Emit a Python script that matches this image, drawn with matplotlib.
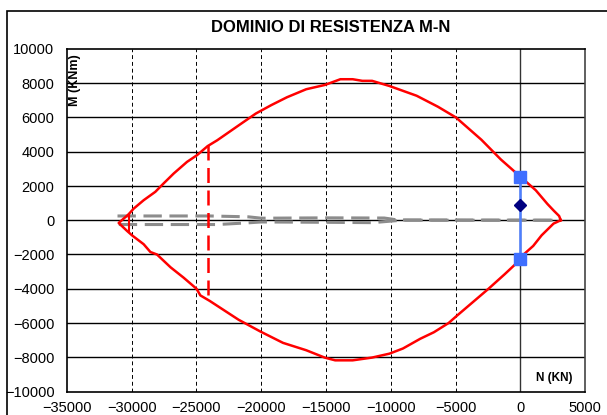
import matplotlib.pyplot as plt
from matplotlib.patches import Rectangle

plt.rcParams['font.family'] = ['Liberation Sans', 'DejaVu Sans']

# dominio di resistenza (contorno chiuso, N in KN, M in KNm)
dom_N = [3130, 3000, 2600, 2100, 1200, 0, -1500, -3000, -4960, -6360, -8000,
         -10100, -11440, -12190, -12940, -13890, -15090, -16530, -18020,
         -19220, -20410, -21610, -23400, -24140, -24960, -25730, -26760,
         -27540, -28180, -29080, -29850, -30240, -31010,
         -30360, -29980, -29080, -28560, -28050, -27000, -26000, -25000,
         -24700, -24000, -21750, -20060, -18320, -16530, -15100, -14290,
         -12940, -11450, -10100, -9060, -7720, -6670, -5530, -4960, -2450,
         -1200, 0, 260, 1000, 1650, 2570, 3130]
dom_M = [0, 250, 550, 950, 1750, 2550, 3550, 4700, 6000, 6630, 7270,
         7840, 8140, 8140, 8235, 8235, 7900, 7650, 7180,
         6725, 6235, 5610, 4670, 4330, 3800, 3410, 2730,
         2150, 1660, 1170, 680, 350, -160,
         -625, -880, -1400, -1855, -2000, -2750, -3350, -4000,
         -4390, -4700, -5810, -6500, -7160, -7590, -8020, -8180,
         -8180, -8020, -7790, -7490, -6920, -6540, -6000, -5620, -4000,
         -3150, -2300, -2000, -1500, -880, -195, 0]

# taglio del dominio sul lato compresso
cut_N = [-30240, -30240]
cut_M = [350, -625]

# limite di compressione (tratteggio rosso)
lim_N = [-24080, -24080]
lim_M = [4390, -4350]

# curve grigie tratteggiate
g1_N = [-31100, -24000, -21000, -20000, -15000, -10500, -9500, 3100]
g1_M = [250, 250, 200, 120, 140, 130, 20, 0]
g2_N = [-31000, -23400, -21000, -20000, -15000, -11400, -9200, 3100]
g2_M = [-250, -250, -150, -100, -120, -140, 0, 0]

# sollecitazioni di verifica
sq_N = [0, 0]
sq_M = [2550, -2250]
pt_N = [0]
pt_M = [880]

fig = plt.figure(figsize=(6.07, 4.15), dpi=100)
fig.patches.append(Rectangle((7 / 607, -0.1), 1.2, 1 - 11 / 415 + 0.1,
                             transform=fig.transFigure, fill=False,
                             edgecolor='black', linewidth=1.2))
ax = fig.add_axes([67 / 607, 1 - 391.5 / 415, 518 / 607, 342.5 / 415])

ax.plot(g1_N, g1_M, color='#8c8c8c', lw=2.2, dashes=(6, 2.5), zorder=3)
ax.plot(g2_N, g2_M, color='#8c8c8c', lw=2.2, dashes=(6, 2.5), zorder=3)
ax.plot(dom_N, dom_M, color='#ff0000', lw=1.8, zorder=4)
ax.plot(cut_N, cut_M, color='#ff0000', lw=1.5, zorder=4)
ax.plot(lim_N, lim_M, color='#ff0000', lw=1.8, dashes=(6, 3), zorder=4)
ax.plot(sq_N, sq_M, color='#4d7fff', lw=1.8, marker='s', markersize=8,
        markerfacecolor='#3f6fff', markeredgecolor='#3f6fff', zorder=5)
ax.plot(pt_N, pt_M, linestyle='none', marker='D', markersize=6,
        color='#000080', zorder=6)

ax.set_xlim(-35000, 5000)
ax.set_ylim(-10000, 10000)
ax.set_xticks(range(-35000, 5001, 5000))
ax.set_yticks(range(-10000, 10001, 2000))
for x in range(-30000, 0, 5000):
    ax.axvline(x, color='black', lw=0.7, ls=(0, (4, 3)), zorder=1)
ax.axvline(0, color='#333333', lw=1.0, zorder=1)
for y in range(-8000, 10000, 2000):
    ax.axhline(y, color='black', lw=1.0, zorder=1)
ax.tick_params(length=0, labelsize=10.5, pad=7)
ax.tick_params(axis='y', pad=9)
for s in ax.spines.values():
    s.set_linewidth(1.2)
ax.spines['right'].set_linestyle((0, (3, 1)))
ax.spines['right'].set_color('#444444')

ax.text(0.004, 0.985, 'M (KNm)', transform=ax.transAxes, rotation=90,
        fontsize=9, fontweight='bold', ha='left', va='top')
ax.text(0.975, 0.022, 'N (KN)', transform=ax.transAxes,
        fontsize=8.5, fontweight='bold', ha='right', va='bottom')
fig.text(331 / 607, 1 - 27 / 415, 'DOMINIO DI RESISTENZA M-N',
         fontsize=12, fontweight='bold', ha='center', va='center')

fig.savefig('out.png', dpi=100)
